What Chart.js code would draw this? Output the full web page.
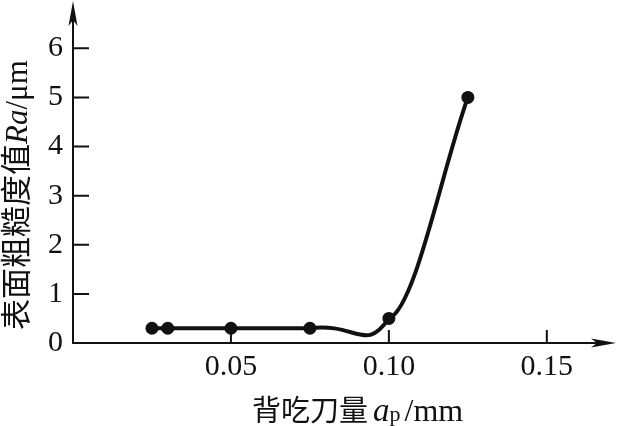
<!DOCTYPE html>
<html>
<head>
<meta charset="utf-8">
<script src="https://cdn.jsdelivr.net/npm/chart.js@4/dist/chart.umd.min.js"></script>
<style>
  body { margin: 0; background: #fff; }
  #wrap { width: 620px; height: 426px; }
</style>
</head>
<body>
<div id="wrap"><canvas id="c" width="620" height="426"></canvas></div>
<script>
// depth of cut a_p (mm) vs surface roughness Ra (um)
const depthOfCut = [0.025, 0.03, 0.05, 0.075, 0.10, 0.125];
const roughness = [0.3, 0.3, 0.3, 0.3, 0.5, 5.0];
const xTicks = [0.05, 0.10, 0.15];
const yTicks = [0, 1, 2, 3, 4, 5, 6];

const serif = '"Liberation Serif", "DejaVu Serif", serif';
const cjk = '"Noto Sans CJK SC", sans-serif';
const ink = '#111';

const toPoints = (from, to) =>
  depthOfCut.slice(from, to).map((v, i) => ({x: v, y: roughness[from + i]}));

// only draw one segment of a dataset's curve
const onlySegment = (k) => ({
  borderColor: (c) => (c.p0DataIndex === k ? ink : 'rgba(0,0,0,0)')
});

// draws a run of text pieces with mixed fonts, left to right along the baseline
function drawPieces(ctx, pieces, x, y) {
  pieces.forEach(p => {
    x += p.gap || 0;
    ctx.font = p.font;
    ctx.fillText(p.text, x, y + (p.dy || 0));
    x += ctx.measureText(p.text).width;
  });
}

const axesPlugin = {
  id: 'axes',
  beforeDatasetsDraw(chart) {
    const {ctx, chartArea: a, scales: {x, y}} = chart;
    const x0 = x.getPixelForValue(0);
    const y0 = y.getPixelForValue(0);
    const top = 1;
    ctx.save();
    ctx.strokeStyle = ink;
    ctx.fillStyle = ink;
    ctx.lineWidth = 2;
    ctx.beginPath();
    ctx.moveTo(x0, y0);
    ctx.lineTo(x0, top + 12);
    ctx.moveTo(x0 - 1, y0);
    ctx.lineTo(a.right, y0);
    // ticks point inward
    yTicks.slice(1).forEach(v => {
      const py = y.getPixelForValue(v);
      ctx.moveTo(x0, py);
      ctx.lineTo(x0 + 16, py);
    });
    xTicks.forEach(v => {
      const px = x.getPixelForValue(v);
      ctx.moveTo(px, y0);
      ctx.lineTo(px, y0 - 13);
    });
    ctx.stroke();

    // arrow heads
    ctx.beginPath();
    ctx.moveTo(x0, top);
    ctx.lineTo(x0 - 4.5, top + 25);
    ctx.lineTo(x0, top + 19);
    ctx.lineTo(x0 + 4.5, top + 25);
    ctx.closePath();
    ctx.fill();
    const tip = a.right + 6;
    ctx.beginPath();
    ctx.moveTo(tip, y0);
    ctx.lineTo(tip - 25, y0 - 4.5);
    ctx.lineTo(tip - 19, y0);
    ctx.lineTo(tip - 25, y0 + 4.5);
    ctx.closePath();
    ctx.fill();
    ctx.restore();
  },
  afterDraw(chart) {
    const {ctx} = chart;
    ctx.save();
    ctx.fillStyle = ink;
    ctx.textBaseline = 'alphabetic';
    ctx.textAlign = 'left';

    // x title
    drawPieces(ctx, [
      {text: '背吃刀量', font: `29px ${cjk}`},
      {text: 'a', font: `italic 33px ${serif}`, gap: 5},
      {text: 'p', font: `22px ${serif}`},
      {text: '/mm', font: `32px ${serif}`, gap: 4}
    ], 252, 421);

    // y title, reads bottom to top
    ctx.translate(27, 330);
    ctx.rotate(-Math.PI / 2);
    drawPieces(ctx, [
      {text: '表面粗糙度值', font: `31px ${cjk}`},
      {text: 'Ra', font: `italic 31px ${serif}`},
      {text: '/μm', font: `31px ${serif}`}
    ], 0, 0);
    ctx.restore();
  }
};

const fixedFit = (size) => (scale) => {
  if (scale.isHorizontal()) scale.height = size; else scale.width = size;
  scale.paddingTop = 0;
  scale.paddingBottom = 0;
  scale.paddingLeft = 0;
  scale.paddingRight = 0;
};

const lineStyle = {
  borderColor: ink,
  borderWidth: 4,
  fill: false,
  pointRadius: 0,
  capBezierPoints: false
};

new Chart(document.getElementById('c'), {
  type: 'line',
  data: {
    datasets: [
      // markers
      {data: toPoints(0), showLine: false, pointRadius: 6.5, pointBackgroundColor: ink, pointBorderWidth: 0},
      // flat run
      {...lineStyle, data: toPoints(0, 4), tension: 0},
      // dip before 0.10
      {...lineStyle, data: toPoints(3), tension: 0.6, segment: onlySegment(0)},
      // steep rise
      {...lineStyle, data: toPoints(3), cubicInterpolationMode: 'monotone', segment: onlySegment(1)}
    ]
  },
  options: {
    responsive: false,
    animation: false,
    devicePixelRatio: 1,
    layout: {padding: {left: 0, right: 10, top: 0, bottom: 0}},
    plugins: {legend: {display: false}, tooltip: {enabled: false}},
    scales: {
      x: {
        type: 'linear',
        min: 0,
        max: 0.17,
        afterBuildTicks: (s) => { s.ticks = xTicks.map(v => ({value: v})); },
        afterFit: fixedFit(83),
        grid: {display: false, drawTicks: false},
        border: {display: false},
        ticks: {
          autoSkip: false,
          maxRotation: 0,
          padding: 6,
          color: ink,
          font: {family: serif, size: 30},
          callback: (v) => v.toFixed(2)
        }
      },
      y: {
        min: 0,
        max: 6.85,
        afterBuildTicks: (s) => { s.ticks = yTicks.map(v => ({value: v})); },
        afterFit: fixedFit(73),
        grid: {display: false, drawTicks: false},
        border: {display: false},
        ticks: {
          autoSkip: false,
          padding: 10,
          color: ink,
          font: {family: serif, size: 30},
          callback: (v) => String(v)
        }
      }
    }
  },
  plugins: [axesPlugin]
});
</script>
</body>
</html>
